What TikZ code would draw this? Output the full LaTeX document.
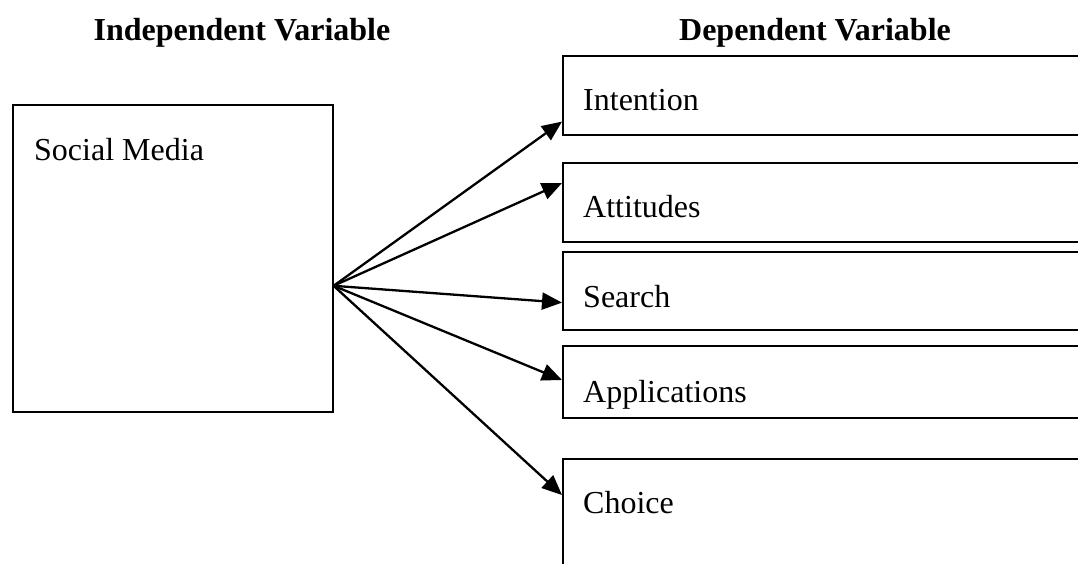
\documentclass[tikz,border=0pt]{standalone}
\usepackage{fontspec}
\setmainfont{Liberation Serif}
\usetikzlibrary{arrows.meta}
\begin{document}
\begin{tikzpicture}[x=1pt,y=-1pt,
  box/.style={draw=black,line width=1.6pt,rectangle,inner sep=0pt,anchor=north west},
  lbl/.style={anchor=base west,inner sep=0pt,font=\fontsize{32}{38}\selectfont},
  head/.style={anchor=base,inner sep=0pt,font=\fontsize{32}{38}\selectfont\bfseries},
  arr/.style={line width=2.3pt,-{Triangle[length=20pt,width=17pt]}}]
\clip (0,0) rectangle (1078,564);
\node[head] (hind) at (242,41) {Independent Variable};
\node[head] (hdep) at (815,41) {Dependent Variable};
\node[box,minimum width=320pt,minimum height=307pt] (sm) at (12,104) {};
\node[lbl] (tsm) at (34,161) {Social Media};
\node[box,minimum width=540pt,minimum height=79pt] (int) at (562,55) {};
\node[lbl] (tint) at (583,111) {Intention};
\node[box,minimum width=540pt,minimum height=79pt] (att) at (562,162) {};
\node[lbl] (tatt) at (583,217) {Attitudes};
\node[box,minimum width=540pt,minimum height=78pt] (sea) at (562,251) {};
\node[lbl] (tsea) at (583,307) {Search};
\node[box,minimum width=540pt,minimum height=72pt] (app) at (562,345) {};
\node[lbl] (tapp) at (583,402) {Applications};
\node[box,minimum width=540pt,minimum height=130pt] (cho) at (562,458) {};
\node[lbl] (tcho) at (583,513) {Choice};
\coordinate (src) at ([yshift=-27.5pt]sm.east);
\draw[arr] (src) -- ([yshift=14pt]int.south west);
\draw[arr] (src) -- ([yshift=-21pt]att.north west);
\draw[arr] (src) -- ([yshift=28pt]sea.south west);
\draw[arr] (src) -- ([yshift=-35pt]app.north west);
\draw[arr] (src) -- ([yshift=-37pt]cho.north west);
\end{tikzpicture}
\end{document}
